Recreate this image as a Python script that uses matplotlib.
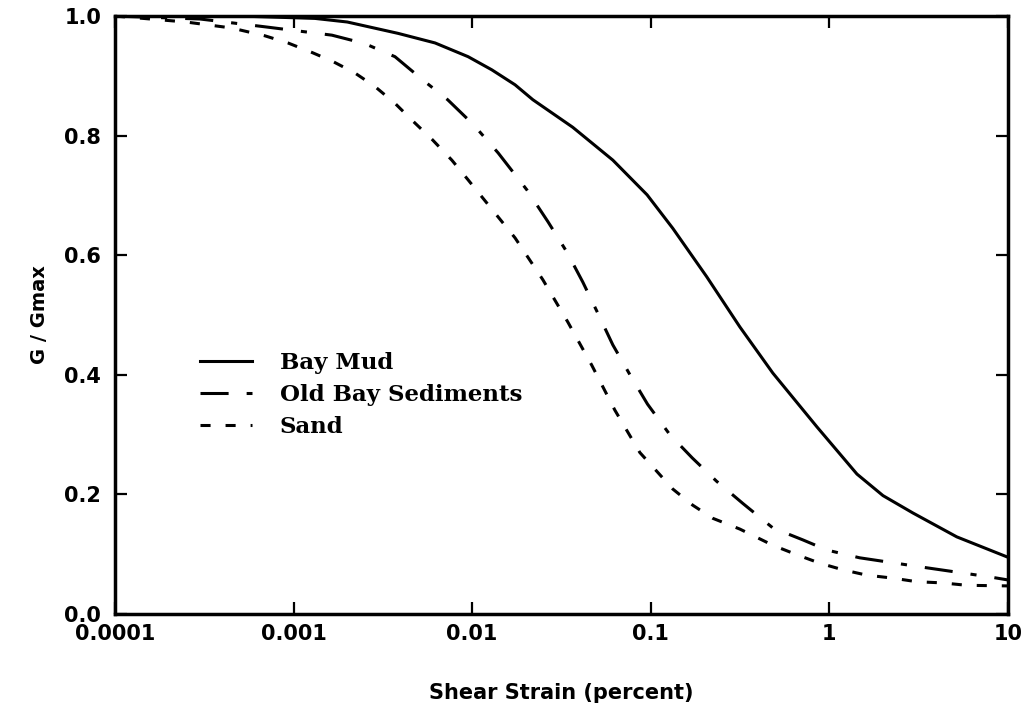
import matplotlib

matplotlib.use("Agg")
import matplotlib.pyplot as plt
from matplotlib.ticker import FixedLocator, FixedFormatter

# Modulus reduction curves
bay_mud_strain = [0.0001, 0.0005, 0.00132, 0.002, 0.00385, 0.0062, 0.0095,
                  0.0129, 0.0174, 0.0219, 0.0366, 0.0614, 0.0955, 0.133,
                  0.206, 0.316, 0.483, 0.853, 1.43, 2.0, 2.94, 5.18, 10.0]
bay_mud_ratio = [1.0, 1.0, 0.996, 0.990, 0.971, 0.955, 0.932,
                 0.91, 0.885, 0.86, 0.814, 0.759, 0.701, 0.645,
                 0.564, 0.48, 0.403, 0.313, 0.234, 0.198, 0.169, 0.129, 0.095]

old_bay_strain = [0.0001, 0.0003, 0.00069, 0.00164, 0.0025, 0.0037, 0.0053,
                  0.0073, 0.0102, 0.014, 0.0203, 0.0266, 0.034, 0.0417,
                  0.0506, 0.0614, 0.0766, 0.096, 0.128, 0.171, 0.234, 0.328,
                  0.483, 0.711, 0.97, 1.48, 3.21, 7.94, 10.0]
old_bay_ratio = [1.0, 0.995, 0.982, 0.968, 0.954, 0.932, 0.893,
                 0.86, 0.818, 0.771, 0.709, 0.656, 0.605, 0.555,
                 0.503, 0.45, 0.40, 0.351, 0.30, 0.261, 0.222, 0.185,
                 0.144, 0.124, 0.107, 0.094, 0.079, 0.062, 0.057]

sand_strain = [0.0001, 0.00025, 0.00045, 0.00069, 0.00093, 0.00127, 0.00166,
               0.0022, 0.00286, 0.0037, 0.0046, 0.006, 0.0077, 0.0095, 0.0116,
               0.0174, 0.0249, 0.0344, 0.0468, 0.063, 0.087, 0.133, 0.172,
               0.223, 0.316, 0.483, 0.66, 0.885, 1.19, 1.62, 2.27, 3.09,
               4.33, 5.89, 10.0]
sand_ratio = [1.0, 0.99, 0.98, 0.967, 0.955, 0.939, 0.924,
              0.905, 0.882, 0.854, 0.826, 0.793, 0.759, 0.726, 0.694,
              0.629, 0.559, 0.488, 0.416, 0.341, 0.27, 0.209, 0.182,
              0.16, 0.142, 0.115, 0.099, 0.085, 0.074, 0.065, 0.06, 0.054,
              0.052, 0.048, 0.047]

x_ticks = [0.0001, 0.001, 0.01, 0.1, 1, 10]
x_tick_labels = ["0.0001", "0.001", "0.01", "0.1", "1", "10"]
y_ticks = [0.0, 0.2, 0.4, 0.6, 0.8, 1.0]
y_tick_labels = ["0.0", "0.2", "0.4", "0.6", "0.8", "1.0"]

fig = plt.figure(figsize=(10.31, 7.06), dpi=100)
ax = fig.add_axes([0.1115, 0.1303, 0.866, 0.847])

lw = 2.2
ax.plot(bay_mud_strain, bay_mud_ratio, color="black", lw=lw, label="Bay Mud")
ax.plot(old_bay_strain, old_bay_ratio, color="black", lw=lw,
        dashes=(9.2, 5.9, 2.0, 5.9), label="Old Bay Sediments")
ax.plot(sand_strain, sand_ratio, color="black", lw=lw,
        dashes=(3.3, 4.9), label="Sand")

ax.set_xscale("log")
ax.set_xlim(0.0001, 10)
ax.set_ylim(0, 1)

ax.xaxis.set_major_locator(FixedLocator(x_ticks))
ax.xaxis.set_major_formatter(FixedFormatter(x_tick_labels))
ax.xaxis.set_minor_locator(FixedLocator([]))
ax.set_yticks(y_ticks)
ax.set_yticklabels(y_tick_labels)

ax.tick_params(which="major", direction="in", length=8.5, width=1.6,
               top=True, right=True, labelsize=15)
ax.tick_params(axis="x", pad=7)
ax.tick_params(axis="y", pad=10)
for lab in ax.get_xticklabels() + ax.get_yticklabels():
    lab.set_fontweight("bold")

for spine in ax.spines.values():
    spine.set_linewidth(2.5)

ax.set_xlabel("Shear Strain (percent)", fontsize=15, fontweight="bold", labelpad=28)
ax.set_ylabel("G / Gmax", fontsize=14, fontweight="bold", labelpad=11)

ax.legend(loc="center left", bbox_to_anchor=(0.095, 0.366), frameon=False,
          borderpad=0, borderaxespad=0, handlelength=2.3, handletextpad=1.2,
          labelspacing=0.45,
          prop={"family": "DejaVu Serif", "weight": "bold", "size": 16.5})

fig.savefig("out.png", dpi=100)
plt.close(fig)
